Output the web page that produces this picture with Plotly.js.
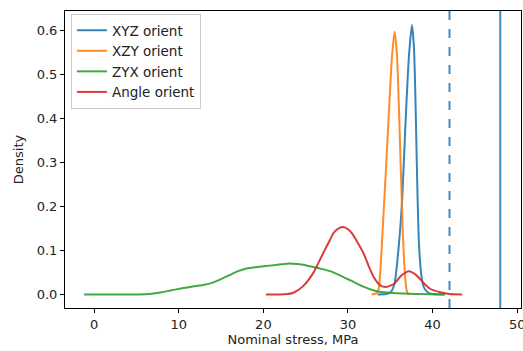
<!DOCTYPE html>
<html>
<head>
<meta charset="utf-8">
<script src="https://cdn.plot.ly/plotly-3.0.1.min.js"></script>
<style>html,body{margin:0;padding:0;background:#fff;}#chart{width:523px;height:351px;}</style>
</head>
<body>
<div id="chart"></div>
<script>
// Series names
const seriesNames = ["XYZ orient", "XZY orient", "ZYX orient", "Angle orient"];

// XYZ orient density curve
const xyzX = [33.5, 34.5, 35.0, 35.5, 36.0, 36.4, 36.8, 37.2, 37.56, 37.8, 38.0, 38.2, 38.4, 38.7, 39.0, 39.5, 40.0, 41.3];
const xyzY = [0, 0.001, 0.004, 0.025, 0.11, 0.215, 0.39, 0.54, 0.612, 0.56, 0.42, 0.24, 0.11, 0.04, 0.015, 0.004, 0.001, 0];

// XZY orient density curve
const xzyX = [32.8, 33.3, 33.6, 34.08, 34.8, 35.2, 35.51, 35.8, 36.06, 36.5, 36.8, 37.0, 37.2];
const xzyY = [0, 0.002, 0.01, 0.14, 0.40, 0.54, 0.597, 0.54, 0.40, 0.13, 0.03, 0.005, 0];

// ZYX orient density curve
const zyxX = [-1.2, 3, 6, 7, 8, 9, 10.1, 11, 12, 13, 14, 15, 16, 17, 18, 19, 20, 21.5, 22.8, 24, 25.1, 26, 27.1, 27.9, 29.1, 30.3, 31.8, 33.4, 35, 36.5, 38, 41.5];
const zyxY = [0, 0, 0.0005, 0.002, 0.005, 0.009, 0.013, 0.016, 0.019, 0.022, 0.027, 0.035, 0.044, 0.053, 0.059, 0.062, 0.064, 0.067, 0.070, 0.069, 0.066, 0.062, 0.057, 0.053, 0.043, 0.032, 0.018, 0.0075, 0.004, 0.002, 0.001, 0];

// Angle orient density curve
const angX = [20.3, 22.5, 23.55, 24.7, 25.9, 27.1, 27.9, 28.3, 29.0, 29.4, 30.0, 30.5, 31.8, 32.5, 33.0, 33.8, 34.5, 35.5, 36.3, 37.2, 38.0, 39.0, 39.7, 40.9, 42.0, 43.5];
const angY = [0, 0.0005, 0.004, 0.019, 0.049, 0.095, 0.125, 0.140, 0.151, 0.153, 0.148, 0.138, 0.095, 0.062, 0.041, 0.021, 0.017, 0.025, 0.043, 0.053, 0.045, 0.025, 0.013, 0.005, 0.001, 0];

// Vertical reference lines (nominal stress values)
const dashedLineX = 42.0;
const solidLineX = 48.0;

// Tick labels
const xTicks = [0, 10, 20, 30, 40, 50];
const yTicks = [0.0, 0.1, 0.2, 0.3, 0.4, 0.5, 0.6];

const colors = ["#1f77b4", "#ff7f0e", "#2ca02c", "#d62728"];
const xs = [xyzX, xzyX, zyxX, angX];
const ys = [xyzY, xzyY, zyxY, angY];

const traces = seriesNames.map((n, i) => ({
  x: xs[i], y: ys[i], name: n, type: "scatter", mode: "lines",
  line: {color: colors[i], width: 2, shape: "spline", smoothing: 0.6},
  opacity: 0.9
}));

const font = {family: "DejaVu Sans", size: 13, color: "#222"};

const layout = {
  width: 523, height: 351,
  margin: {l: 65, r: 2, t: 11, b: 43},
  paper_bgcolor: "#fff", plot_bgcolor: "#fff",
  font: font,
  showlegend: true,
  legend: {
    x: 0.013, y: 0.99, xanchor: "left", yanchor: "top",
    bgcolor: "rgba(255,255,255,0.8)", bordercolor: "#ccc", borderwidth: 1,
    font: {family: "DejaVu Sans", size: 13.5, color: "#222"},
    itemwidth: 30, tracegroupgap: 0
  },
  xaxis: {
    range: [-3.45, 50.45], tickvals: xTicks, ticktext: xTicks.map(String),
    showgrid: false, zeroline: false, showline: true, mirror: true,
    linecolor: "#000", linewidth: 1, ticks: "outside", ticklen: 4, tickcolor: "#000",
    tickfont: font, ticklabeloverflow: "allow",
    title: {text: "Nominal stress, MPa", font: font, standoff: 4}
  },
  yaxis: {
    range: [-0.0307, 0.6437], tickvals: yTicks, ticktext: yTicks.map(v => v.toFixed(1)),
    showgrid: false, zeroline: false, showline: true, mirror: true,
    linecolor: "#000", linewidth: 1, ticks: "outside", ticklen: 4, tickcolor: "#000",
    tickfont: font,
    title: {text: "Density", font: font, standoff: 10}
  },
  shapes: [
    {type: "line", xref: "x", yref: "paper", x0: dashedLineX, x1: dashedLineX, y0: 0, y1: 1,
     line: {color: "#1f77b4", width: 2, dash: "dash"}, opacity: 0.85},
    {type: "line", xref: "x", yref: "paper", x0: solidLineX, x1: solidLineX, y0: 0, y1: 1,
     line: {color: "#1f77b4", width: 2}, opacity: 0.85}
  ]
};

Plotly.newPlot("chart", traces, layout, {displayModeBar: false, staticPlot: true});
</script>
</body>
</html>
